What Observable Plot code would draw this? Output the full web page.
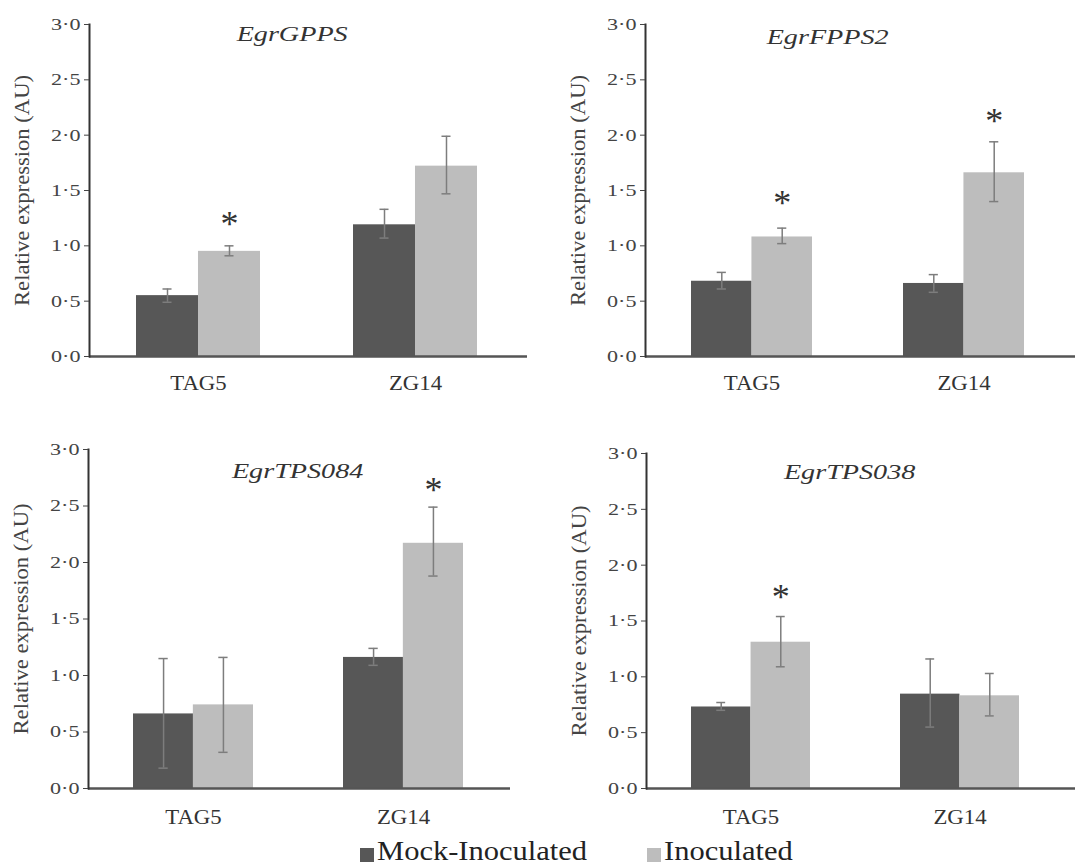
<!DOCTYPE html>
<html><head><meta charset="utf-8">
<script src="https://cdn.jsdelivr.net/npm/d3@7"></script>
<script src="https://cdn.jsdelivr.net/npm/@observablehq/plot@0.6"></script>
<style>
body{margin:0;background:#fff;}
#chart{position:relative;width:1075px;height:866px;overflow:hidden;font-family:"Liberation Serif","Times New Roman",serif;color:#333;}
.panel{position:absolute;}
.sw{position:absolute;width:14px;height:14px;}
.lt{position:absolute;font-size:27px;line-height:1;color:#222;transform-origin:left center;transform:scaleX(1.13);white-space:nowrap;}
</style></head><body><div id="chart"></div>
<script>
// ---------- data ----------
const genes = ["EgrGPPS", "EgrFPPS2", "EgrTPS084", "EgrTPS038"];
const lines = ["TAG5", "ZG14"];
const treatments = ["Mock-Inoculated", "Inoculated"];
const yTicks = [0, 0.5, 1, 1.5, 2, 2.5, 3];
const yTickLabels = ["0·0", "0·5", "1·0", "1·5", "2·0", "2·5", "3·0"];
const yLabel = "Relative expression (AU)";

// values by line [TAG5, ZG14]
const gppsMock = [0.55, 1.19], gppsMockLo = [0.49, 1.07], gppsMockHi = [0.61, 1.33];
const gppsInoc = [0.95, 1.72], gppsInocLo = [0.91, 1.47], gppsInocHi = [1.00, 1.99];
const gppsStar = [1.25, null];

const fppsMock = [0.68, 0.66], fppsMockLo = [0.61, 0.58], fppsMockHi = [0.76, 0.74];
const fppsInoc = [1.08, 1.66], fppsInocLo = [1.02, 1.40], fppsInocHi = [1.16, 1.94];
const fppsStar = [1.44, 2.18];

const tps084Mock = [0.66, 1.16], tps084MockLo = [0.18, 1.09], tps084MockHi = [1.15, 1.24];
const tps084Inoc = [0.74, 2.17], tps084InocLo = [0.32, 1.88], tps084InocHi = [1.16, 2.49];
const tps084Star = [null, 2.69];

const tps038Mock = [0.73, 0.845], tps038MockLo = [0.70, 0.55], tps038MockHi = [0.77, 1.16];
const tps038Inoc = [1.31, 0.83], tps038InocLo = [1.09, 0.65], tps038InocHi = [1.54, 1.03];
const tps038Star = [1.76, null];

const series = [
  [gppsMock, gppsMockLo, gppsMockHi, gppsInoc, gppsInocLo, gppsInocHi, gppsStar],
  [fppsMock, fppsMockLo, fppsMockHi, fppsInoc, fppsInocLo, fppsInocHi, fppsStar],
  [tps084Mock, tps084MockLo, tps084MockHi, tps084Inoc, tps084InocLo, tps084InocHi, tps084Star],
  [tps038Mock, tps038MockLo, tps038MockHi, tps038Inoc, tps038InocLo, tps038InocHi, tps038Star]
];

// ---------- layout (pixels) ----------
const layout = [
  {left: 0,   top: 0,   width: 537, height: 410, mL: 89,  mR: 13, mT: 24, mB: 54, ext: 3,  titleDx: -15, titleDy: 1,  catPad: 19},
  {left: 537, top: 0,   width: 538, height: 410, mL: 108, mR: 6,  mT: 24, mB: 54, ext: 6,  titleDx: -30, titleDy: 4,  catPad: 19},
  {left: 0,   top: 420, width: 537, height: 410, mL: 88,  mR: 29, mT: 29, mB: 42, ext: 2,  titleDx: -1,  titleDy: 13, catPad: 21},
  {left: 537, top: 420, width: 538, height: 410, mL: 109, mR: 11, mT: 33, mB: 42, ext: 11, titleDx: -6,  titleDy: 10, catPad: 21}
];
const darkFill = "#575757", lightFill = "#bdbdbd", errColor = "#7d7d7d";
const padInner = 0.43;

// widen glyphs horizontally (the reference type is wide), keeping each text's anchor in place
function stretchText(t, f) {
  const b0 = t.getBBox();
  const L = t.getComputedTextLength();
  t.setAttribute("textLength", (L * f).toFixed(2));
  t.setAttribute("lengthAdjust", "spacingAndGlyphs");
  const b1 = t.getBBox();
  const anchor = getComputedStyle(t).textAnchor;
  let shift;
  if (anchor === "end") shift = (b0.x + b0.width) - (b1.x + b1.width);
  else if (anchor === "middle") shift = (b0.x + b0.width / 2) - (b1.x + b1.width / 2);
  else shift = b0.x - b1.x;
  if (Math.abs(shift) > 0.01) t.setAttribute("dx", shift.toFixed(2));
}
function stretchSel(svg, sel, f) { svg.querySelectorAll(sel).forEach(t => stretchText(t, f)); }
function stretchByText(svg, s, f) {
  svg.querySelectorAll("text").forEach(t => { if (t.textContent === s) stretchText(t, f); });
}

const chart = document.getElementById("chart");

genes.forEach((gene, g) => {
  const [mM, mLo, mHi, iM, iLo, iHi, star] = series[g];
  const L = layout[g];
  const rows = [];
  lines.forEach((ln, i) => {
    rows.push({line: ln, treatment: treatments[0], value: mM[i], lo: mLo[i], hi: mHi[i]});
    rows.push({line: ln, treatment: treatments[1], value: iM[i], lo: iLo[i], hi: iHi[i]});
  });
  const mock = rows.filter(d => d.treatment === treatments[0]);
  const inoc = rows.filter(d => d.treatment === treatments[1]);
  const stars = lines.map((ln, i) => ({line: ln, y: star[i]})).filter(d => d.y != null);

  const step = (L.width - L.mL - L.mR) / lines.length;
  const bw = step * (1 - padInner);
  const capInset = (bw - 9) / 2;

  const svg = Plot.plot({
    width: L.width, height: L.height,
    marginLeft: L.mL, marginRight: L.mR, marginTop: L.mT, marginBottom: L.mB,
    style: {fontFamily: "'Liberation Serif','Times New Roman',serif", color: "#333", background: "transparent"},
    x: {domain: lines, paddingInner: padInner, paddingOuter: padInner / 2},
    y: {domain: [0, 3]},
    marks: [
      Plot.barY(mock, {x: "line", y: "value", fill: darkFill, insetRight: bw / 2}),
      Plot.barY(inoc, {x: "line", y: "value", fill: lightFill, insetLeft: bw / 2}),
      Plot.ruleX(mock, {x: "line", y1: "lo", y2: "hi", dx: -bw / 4, stroke: errColor, strokeWidth: 1.5}),
      Plot.ruleX(inoc, {x: "line", y1: "lo", y2: "hi", dx: bw / 4, stroke: errColor, strokeWidth: 1.5}),
      Plot.tickY(mock, {x: "line", y: "hi", dx: -bw / 4, insetLeft: capInset, insetRight: capInset, stroke: errColor, strokeWidth: 1.5}),
      Plot.tickY(mock, {x: "line", y: "lo", dx: -bw / 4, insetLeft: capInset, insetRight: capInset, stroke: errColor, strokeWidth: 1.5}),
      Plot.tickY(inoc, {x: "line", y: "hi", dx: bw / 4, insetLeft: capInset, insetRight: capInset, stroke: errColor, strokeWidth: 1.5}),
      Plot.tickY(inoc, {x: "line", y: "lo", dx: bw / 4, insetLeft: capInset, insetRight: capInset, stroke: errColor, strokeWidth: 1.5}),
      Plot.ruleY([0], {stroke: "#555", strokeWidth: 2.5, insetRight: -L.ext}),
      Plot.frame({anchor: "left", stroke: "#333", strokeWidth: 2}),
      Plot.axisY({ticks: yTicks, tickFormat: d => yTickLabels[yTicks.indexOf(d)], tickSize: 5, tickPadding: 4, fontSize: 17, label: null, color: "#444"}),
      Plot.axisX({tickSize: 0, tickPadding: L.catPad, fontSize: 20, label: null, color: "#333"}),
      Plot.text([gene], {frameAnchor: "top", dx: L.titleDx, dy: L.titleDy, text: d => d, fontStyle: "italic", fontSize: 22, fill: "#333"}),
      Plot.text([yLabel], {frameAnchor: "left", dx: -67, rotate: -90, textAnchor: "middle", lineAnchor: "middle", text: d => d, fontSize: 20, fill: "#444"}),
      Plot.text(stars, {x: "line", y: "y", dx: bw / 4, dy: 6, text: () => "*", fontSize: 36, fill: "#333"})
    ]
  });
  const wrap = document.createElement("div");
  wrap.className = "panel";
  wrap.style.left = L.left + "px";
  wrap.style.top = L.top + "px";
  wrap.appendChild(svg);
  chart.appendChild(wrap);
  stretchSel(svg, 'g[aria-label="y-axis tick label"] text', 1.3);
  stretchSel(svg, 'g[aria-label="x-axis tick label"] text', 1.14);
  stretchByText(svg, gene, 1.28);
  stretchByText(svg, yLabel, 1.13);
});

// ---------- legend ----------
const legendItems = [
  {label: treatments[0], fill: darkFill, sx: 360, tx: 377},
  {label: treatments[1], fill: lightFill, sx: 647, tx: 664}
];
legendItems.forEach(it => {
  const sw = document.createElement("div");
  sw.className = "sw";
  sw.style.left = it.sx + "px";
  sw.style.top = "848px";
  sw.style.background = it.fill;
  chart.appendChild(sw);
  const t = document.createElement("div");
  t.className = "lt";
  t.style.left = it.tx + "px";
  t.style.top = "838px";
  t.textContent = it.label;
  chart.appendChild(t);
});
</script>
</body></html>
